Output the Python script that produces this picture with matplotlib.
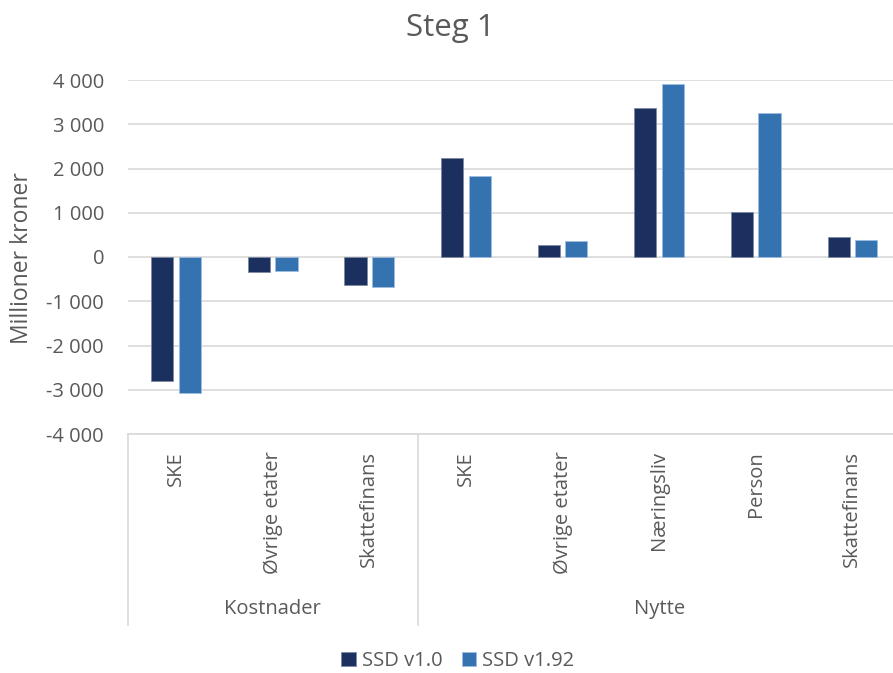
import matplotlib
matplotlib.use("Agg")
import matplotlib.pyplot as plt
import numpy as np
from matplotlib.ticker import FuncFormatter, MultipleLocator

# data (millioner kroner)
categories = ["SKE", "Øvrige etater", "Skattefinans",
              "SKE", "Øvrige etater", "Næringsliv", "Person", "Skattefinans"]
groups = ["Kostnader", "Nytte"]
group_sizes = [3, 5]
series_names = ["SSD v1.0", "SSD v1.92"]
ssd_v10 = [-2810, -350, -640, 2240, 270, 3375, 1015, 445]
ssd_v192 = [-3075, -320, -685, 1840, 370, 3910, 3265, 390]

colors = ["#1B305E", "#3572B0"]
edges = ["#7F8BA3", "#9DBDE0"]
text_color = "#595959"
grid_color = "#D9D9D9"

plt.rcParams["font.family"] = ["Open Sans", "DejaVu Sans"]

W, H = 893, 673
fig = plt.figure(figsize=(W / 100, H / 100), dpi=100)
ax = fig.add_axes([127.7 / W, 1 - 434 / H, 773 / W, 354 / H])

x = np.arange(len(categories))
bw = 0.23
off = 0.1425
ax.bar(x - off, ssd_v10, bw, color=colors[0], edgecolor=edges[0], linewidth=0.6,
       label=series_names[0], zorder=3)
ax.bar(x + off, ssd_v192, bw, color=colors[1], edgecolor=edges[1], linewidth=0.6,
       label=series_names[1], zorder=3)

ax.set_xlim(-0.5, len(categories) - 0.5)
ax.set_ylim(-4000, 4000)
ax.yaxis.set_major_locator(MultipleLocator(1000))
ax.yaxis.set_major_formatter(FuncFormatter(lambda v, p: f"{v:,.0f}".replace(",", " ")))
ax.grid(axis="y", color=grid_color, linewidth=1.2, zorder=0)
ax.tick_params(axis="y", length=0, pad=17, labelsize=14.5, labelcolor=text_color)
ax.set_xticks([])
for s in ["top", "right", "left"]:
    ax.spines[s].set_visible(False)
ax.spines["bottom"].set_color(grid_color)
ax.spines["bottom"].set_linewidth(1.2)

fig.text(22 / W, 1 - 258 / H, "Millioner kroner", rotation=90, fontsize=16.5,
         color=text_color, ha="center", va="center")
fig.text(450 / W, 1 - 28 / H, "Steg 1", fontsize=22.5, color=text_color,
         ha="center", va="center")

# category labels under the axis
trans = ax.get_xaxis_transform()
y_lab = -17 / 354
for xi, lab in zip(x, categories):
    ax.text(xi, y_lab, lab, rotation=90, ha="center", va="top", fontsize=14.5,
            color=text_color, transform=trans, clip_on=False)

# group labels and separators
y_grp = -(609 - 434) / 354
y_line = -(625 - 434) / 354
start = 0
bounds = [-0.5]
for g, n in zip(groups, group_sizes):
    mid = start + (n - 1) / 2
    ax.text(mid, y_grp, g, ha="center", va="center", fontsize=14.5,
            color=text_color, transform=trans, clip_on=False)
    start += n
    bounds.append(start - 0.5)
for b in bounds:
    ax.plot([b, b], [0, y_line], color=grid_color, linewidth=1.2,
            transform=trans, clip_on=False)

fig.legend(loc="center", bbox_to_anchor=(458 / W, 1 - 661 / H), ncol=2,
           frameon=False, fontsize=14.5, labelcolor=text_color,
           handlelength=0.7, handleheight=0.7, handletextpad=0.3,
           columnspacing=1.0)

fig.savefig("out.png", dpi=100)
